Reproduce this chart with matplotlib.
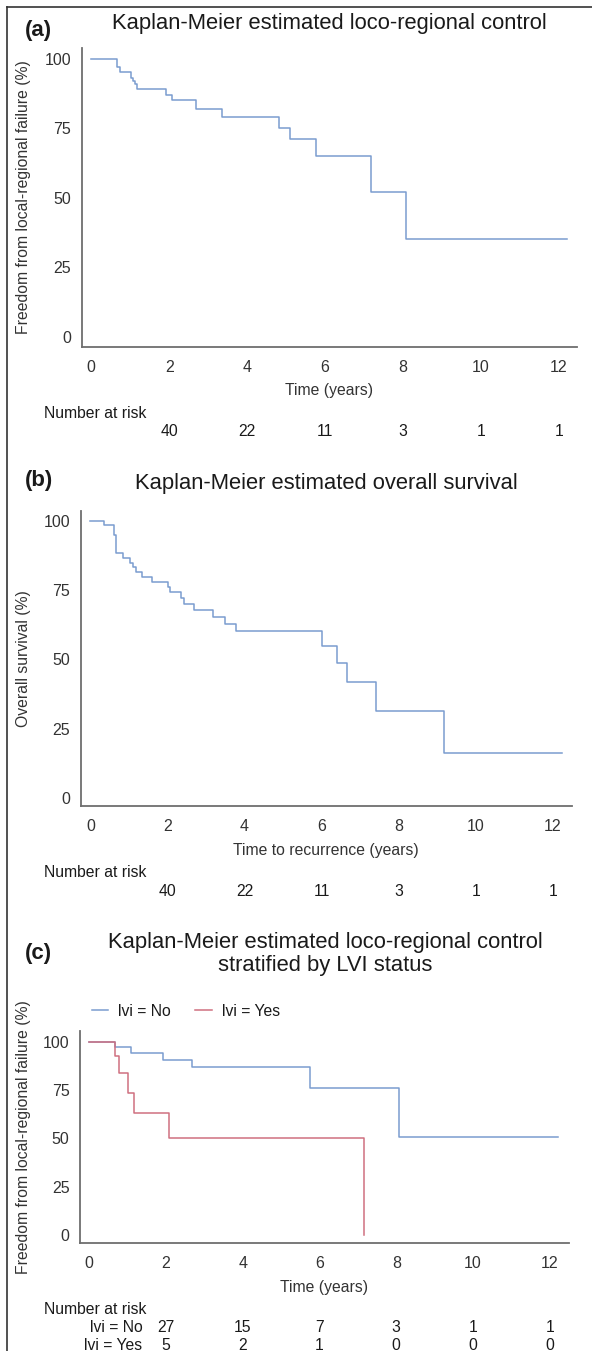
import matplotlib
matplotlib.use("Agg")
import matplotlib.pyplot as plt
from matplotlib.lines import Line2D
from matplotlib.transforms import blended_transform_factory

plt.rcParams['font.family'] = ['Liberation Sans', 'DejaVu Sans']

# ---------------- data ----------------
a_times = [0, 0.65, 0.75, 1.01, 1.06, 1.12, 1.18, 1.92, 2.08, 2.68, 3.35, 4.83, 5.09, 5.77, 7.17, 8.08, 12.22]
a_surv = [100, 97, 95, 93, 92, 91, 89, 87, 85, 82, 79, 75, 71, 65, 52, 35, 35]

b_times = [0, 0.35, 0.61, 0.67, 0.84, 1.04, 1.11, 1.19, 1.34, 1.59, 2.02, 2.08, 2.34, 2.42,
           2.68, 3.18, 3.50, 3.78, 6.0, 6.41, 6.66, 7.42, 9.17, 12.24]
b_surv = [100, 98.6, 95.2, 88.5, 86.7, 85.0, 83.3, 81.6, 79.9, 78.1, 76.1, 74.3, 72.1, 70.0,
          67.9, 65.2, 62.8, 60.4, 54.8, 48.8, 41.9, 31.4, 16.0, 16.0]

c_no_times = [0, 0.67, 1.09, 1.93, 2.68, 5.76, 8.07, 12.22]
c_no_surv = [100, 97.1, 94.0, 90.7, 86.8, 76.0, 50.8, 50.8]
c_yes_times = [0, 0.67, 0.77, 1.01, 1.17, 2.09, 7.15]
c_yes_surv = [100, 92.6, 83.5, 73.2, 62.9, 50.2, 0]

x_ticks = [0, 2, 4, 6, 8, 10, 12]
y_ticks = [0, 25, 50, 75, 100]
risk_times = [2, 4, 6, 8, 10, 12]
risk_a = [40, 22, 11, 3, 1, 1]
risk_b = [40, 22, 11, 3, 1, 1]
risk_no = [27, 15, 7, 3, 1, 1]
risk_yes = [5, 2, 1, 0, 0, 0]
group_labels = ["lvi = No", "lvi = Yes"]

BLUE = '#7a9ccf'
RED = '#cf7080'
SPINE = '#6e6e6e'
TXT = '#333333'
DARK = '#1a1a1a'

W, H = 592, 1351
fig = plt.figure(figsize=(W / 100, H / 100), dpi=100)


def rect(l, r, t, b):
    return [l / W, 1 - b / H, (r - l) / W, (b - t) / H]


def fy(py):
    return 1 - py / H


def style(ax, xlim, ylim, xlabel, ylabel, left_px, right_px):
    ax.set_xlim(*xlim)
    ax.set_ylim(*ylim)
    ax.set_xticks(x_ticks)
    ax.set_yticks(y_ticks)
    for s in ['top', 'right']:
        ax.spines[s].set_visible(False)
    for s in ['left', 'bottom']:
        ax.spines[s].set_color(SPINE)
        ax.spines[s].set_linewidth(1.3)
    ax.tick_params(axis='both', length=0, labelsize=11.5, labelcolor=TXT)
    ax.tick_params(axis='x', pad=9.5)
    ax.tick_params(axis='y', pad=7.5)
    ax.set_xlabel(xlabel, fontsize=11.3, color=TXT, labelpad=6)
    ax.set_ylabel(ylabel, fontsize=11.3, color=TXT)
    ax.yaxis.set_label_coords((23.3 - left_px) / (right_px - left_px), 0.5)
    ax.yaxis.label.set_verticalalignment('center')
    ax.patch.set_alpha(0)


def panel_header(letter, title, cx, ty, ly):
    fig.text(cx / W, fy(ty), title, ha='center', va='center', fontsize=15.8, color=DARK,
             linespacing=1.15)
    fig.text(25 / W, fy(ly), letter, ha='left', va='center', fontsize=16, fontweight='bold', color=DARK)


# ---------- panel a ----------
ax1 = fig.add_axes(rect(81.5, 577, 48.3, 346.7))
ax1.step(a_times, a_surv, where='post', color=BLUE, lw=1.1)
style(ax1, (-0.25, 12.47), (-3.6, 103.7), "Time (years)", "Freedom from local-regional failure (%)", 81.5, 577)
panel_header("(a)", "Kaplan-Meier estimated loco-regional control", 329, 24, 30.7)
fig.text(44.3 / W, fy(413.3), "Number at risk", ha='left', va='center', fontsize=11.3, color=DARK)
tr1 = blended_transform_factory(ax1.transData, fig.transFigure)
for t, n in zip(risk_times, risk_a):
    ax1.text(t, fy(432), str(n), transform=tr1, ha='center', va='center', fontsize=11.3, color=DARK)

# ---------- panel b ----------
ax2 = fig.add_axes(rect(80.7, 571.7, 511, 806.3))
ax2.step(b_times, b_surv, where='post', color=BLUE, lw=1.1)
style(ax2, (-0.25, 12.49), (-3.1, 103.7), "Time to recurrence (years)", "Overall survival (%)", 80.7, 571.7)
panel_header("(b)", "Kaplan-Meier estimated overall survival", 326, 483.5, 480.7)
fig.text(44.3 / W, fy(872.7), "Number at risk", ha='left', va='center', fontsize=11.3, color=DARK)
tr2 = blended_transform_factory(ax2.transData, fig.transFigure)
for t, n in zip(risk_times, risk_b):
    ax2.text(t, fy(891), str(n), transform=tr2, ha='center', va='center', fontsize=11.3, color=DARK)

# ---------- panel c ----------
ax3 = fig.add_axes(rect(80, 569, 1031, 1243.3))
l_no, = ax3.step(c_no_times, c_no_surv, where='post', color=BLUE, lw=1.1, label=group_labels[0])
l_yes, = ax3.step(c_yes_times, c_yes_surv, where='post', color=RED, lw=1.1, label=group_labels[1])
style(ax3, (-0.24, 12.5), (-4.4, 105.5), "Time (years)", "Freedom from local-regional failure (%)", 80, 569)
ax3.legend(handles=[l_no, l_yes], loc='center left', bbox_to_anchor=(91.7 / W, fy(1011)),
           bbox_transform=fig.transFigure, ncol=2, frameon=False, fontsize=11.3,
           handlelength=1.05, handletextpad=0.65, columnspacing=1.55, borderpad=0, borderaxespad=0,
           labelcolor=DARK)
panel_header("(c)", "Kaplan-Meier estimated loco-regional control\nstratified by LVI status", 325, 954, 953.3)
fig.text(44.3 / W, fy(1310), "Number at risk", ha='left', va='center', fontsize=11.3, color=DARK)
fig.text(142.3 / W, fy(1327.7), group_labels[0], ha='right', va='center', fontsize=11.3, color=DARK)
fig.text(142.3 / W, fy(1345), group_labels[1], ha='right', va='center', fontsize=11.3, color=DARK)
tr3 = blended_transform_factory(ax3.transData, fig.transFigure)
for t, n1, n2 in zip(risk_times, risk_no, risk_yes):
    ax3.text(t, fy(1327.7), str(n1), transform=tr3, ha='center', va='center', fontsize=11.3, color=DARK)
    ax3.text(t, fy(1345), str(n2), transform=tr3, ha='center', va='center', fontsize=11.3, color=DARK)

# ---------- outer frame (left & top edges) ----------
fig.add_artist(Line2D([6.7 / W, 6.7 / W], [0, fy(6.7)], transform=fig.transFigure, color='#333333', lw=1.2))
fig.add_artist(Line2D([6.7 / W, 1], [fy(6.7), fy(6.7)], transform=fig.transFigure, color='#333333', lw=1.2))

fig.savefig("out.png", dpi=100, facecolor='white')
